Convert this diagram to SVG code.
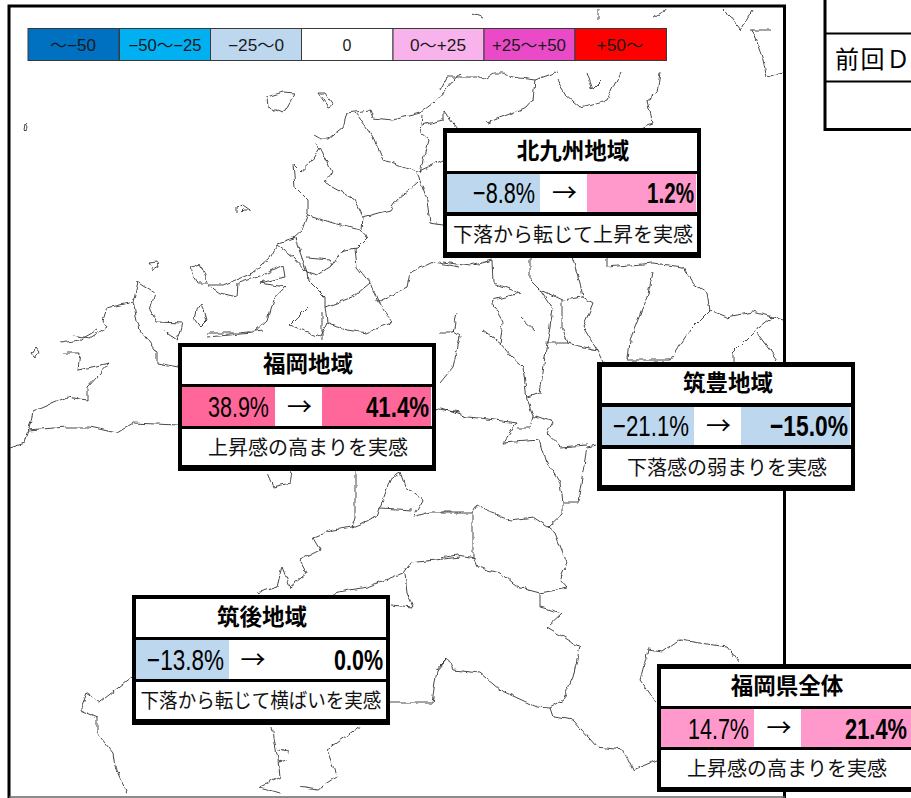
<svg xmlns="http://www.w3.org/2000/svg" width="911" height="798" viewBox="0 0 911 798">
<defs>
<filter id="rough" filterUnits="userSpaceOnUse" x="0" y="0" width="911" height="798" color-interpolation-filters="sRGB">
<feTurbulence type="fractalNoise" baseFrequency="0.13" numOctaves="2" seed="4" result="n"/>
<feDisplacementMap in="SourceGraphic" in2="n" scale="5" xChannelSelector="R" yChannelSelector="G"/>
</filter>
</defs>
<style>
text{font-family:"Noto Sans CJK JP","Liberation Sans",sans-serif;fill:#000}
.map polyline{fill:none;stroke:#333;stroke-width:.9;stroke-linejoin:round}
.lg rect{stroke:#3a3a3a;stroke-width:1}
.lg text{font-size:16px;text-anchor:middle;fill:#1a1a1a;font-family:"Liberation Sans","Noto Sans CJK JP",sans-serif}
.bx{fill:#000}
.w{fill:#fff}
.b{fill:#bdd7ee}.p{fill:#ff99cc}.d{fill:#ff6699}
.t{font-size:22.5px;font-weight:700;text-anchor:middle}
.v{font-family:"Liberation Sans",sans-serif;font-size:29px;text-anchor:end}
.vb{font-weight:700}
.a{font-size:25px;text-anchor:middle}
.f{font-size:20px;text-anchor:middle;fill:#111}
</style>
<rect width="911" height="798" fill="#fff"/>
<path id="frame" d="M9 798V6H784.500V798" fill="none" stroke="#000" stroke-width="3"/>
<line x1="9" y1="797" x2="785" y2="797" stroke="#666" stroke-width="1.500"/>
<g id="map" class="map" filter="url(#rough)">
<polyline points="267,97 283,92 295,93 287,107 283,113 268,107 267,97"/>
<polyline points="318,93 325,93 333,105 328,107 318,93"/>
<polyline points="25,124 27,128 26,132 24,130 25,124"/>
<polyline points="237,213 237,207 243,205 250,210 243,210 240,213"/>
<polyline points="148,263 157,262 158,267 153,270 148,263"/>
<polyline points="190,267 200,263 208,283 197,283 190,267"/>
<polyline points="197,310 202,303 207,320 200,327 195,320 197,310"/>
<polyline points="35,347 39,352 35,358 31,353 35,347"/>
<polyline points="315,135 322,139 328,139 343,127 347,113 370,110 373,118 393,120 420,113 433,103 447,88 460,73"/>
<polyline points="440,90 447,77 477,77 483,80 493,73 503,73 512,77 535,80 557,72"/>
<polyline points="535,80 533,100 527,107 487,123"/>
<polyline points="557,80 566,95 580,107 607,100 620,73"/>
<polyline points="587,73 593,90 603,80"/>
<polyline points="660,73 657,93 647,100 653,123 640,128"/>
<polyline points="723,8 740,30 752,10"/>
<polyline points="750,30 770,30"/>
<polyline points="752,30 757,43 763,60 767,77 783,72"/>
<polyline points="473,13 483,17"/><polyline points="598,10 598,20"/><polyline points="653,17 667,10"/>
<polyline points="315,143 320,147 310,163 300,172 293,165 295,187 308,200 308,213 302,230 293,238 278,243 270,258 253,273 223,285 208,285"/>
<polyline points="208,285 220,293 237,297 238,283 263,275 283,265 285,277 260,283 285,287 273,300 267,320 253,333 207,337"/>
<polyline points="138,282 155,293 150,310 157,322 182,323 177,340"/>
<polyline points="138,282 133,302 107,308 103,320 107,327 90,338 72,335"/>
<polyline points="133,302 137,320 140,330 157,353 157,363 178,367"/>
<polyline points="355,113 373,137 383,160 393,163 417,172 443,160"/>
<polyline points="420,172 428,140 420,133 422,115"/>
<polyline points="422,125 443,120 443,110 457,128"/>
<polyline points="417,173 427,200 430,223 443,225"/>
<polyline points="320,147 332,172 325,183 355,200 363,217 362,230"/>
<polyline points="363,217 390,210 397,200 417,183"/>
<polyline points="308,215 333,223 360,230 367,238 357,248 343,250 333,265 317,275 307,272 295,238"/>
<polyline points="307,258 330,260 333,265"/>
<polyline points="277,245 293,257 307,272 308,280 325,297 325,307"/>
<polyline points="355,248 357,267 370,283 353,297 325,307"/>
<polyline points="370,283 378,302 407,287 410,273 433,262 460,267"/>
<polyline points="378,302 392,322 367,333 347,330 327,322 325,307"/>
<polyline points="310,305 290,325 320,337 327,322"/>
<polyline points="322,313 322,340"/>
<polyline points="443,262 470,266 492,260"/>
<polyline points="492,260 493,283 520,293 493,300 492,303 503,322 500,343"/>
<polyline points="530,258 530,280 540,290 563,300 583,297"/>
<polyline points="572,257 580,283 583,297 593,303 583,327 597,350 603,362"/>
<polyline points="562,300 562,327 568,343"/>
<polyline points="540,290 553,310 547,343"/>
<polyline points="607,258 607,267 653,263 683,267 693,283 707,293 710,310 727,317 753,312 773,317 783,320"/>
<polyline points="653,273 647,297 630,340 628,360 670,360 690,330 710,310"/>
<polyline points="773,317 760,327 753,333 733,353 733,362"/>
<polyline points="757,333 777,360"/>
<polyline points="457,313 453,333 440,333"/>
<polyline points="520,317 537,333"/>
<polyline points="450,330 460,337 453,367 440,383"/>
<polyline points="60,343 80,340 97,330"/>
<polyline points="63,353 80,353 78,370 110,363 87,388 87,400 67,397 33,412 28,433 25,443 10,448"/>
<polyline points="28,430 67,427 90,427 117,433 133,423 178,425"/>
<polyline points="163,330 177,340"/>
<polyline points="207,333 240,333 263,330"/>
<polyline points="433,408 460,413"/>
<polyline points="267,473 273,487 290,483 292,472"/>
<polyline points="355,472 355,517 352,527 333,530 313,538 320,550 300,560 307,573 290,587 282,567 277,587 257,593"/>
<polyline points="352,527 377,517 390,480 400,473 405,487 423,500 413,517 430,512 460,512"/>
<polyline points="380,508 413,510"/>
<polyline points="333,593 367,587 403,573 410,563 460,557"/>
<polyline points="405,573 407,593 413,607 390,605"/>
<polyline points="447,658 437,670 432,703 390,703"/>
<polyline points="132,677 100,702 87,693 80,710 97,717 97,733 113,753 115,767 127,793"/>
<polyline points="272,727 278,760 280,777 260,787 280,793"/>
<polyline points="278,750 288,752"/><polyline points="279,762 287,760"/>
<polyline points="360,727 327,750 337,777 317,790 300,787"/>
<polyline points="440,408 467,417 480,418 517,423 503,443 540,440 547,463 560,483 563,502 578,502 587,447 597,445"/>
<polyline points="483,330 500,343 510,355 523,367 527,400 533,415 553,422 547,433 560,447 587,445"/>
<polyline points="517,428 530,428 533,415"/>
<polyline points="527,397 540,393 547,343 567,343 597,350"/>
<polyline points="563,502 563,513 548,527 555,533 567,563 560,580 567,588 540,593"/>
<polyline points="440,513 473,513 477,505 490,512 510,520 533,517 548,527"/>
<polyline points="473,513 473,557 477,567 500,573 517,587 540,593 540,607 562,613 547,627 580,647 573,677 563,700 550,708 537,707 500,690 480,673 453,670 447,658 440,665"/>
<polyline points="440,558 457,555 475,558"/>
<polyline points="550,708 553,717 573,720 597,747 623,750 633,770 657,760"/>
<polyline points="740,663 727,647 680,640 663,652 648,650 640,680 657,703"/>
</g>
<g id="legend" class="lg">
<rect x="28" y="28.500" width="91" height="32" fill="#0070c0"/><text x="73" y="50.500" textLength="46" lengthAdjust="spacingAndGlyphs">〜−50</text>
<rect x="119.500" y="28.500" width="91" height="32" fill="#00b0f0"/><text x="165" y="50.500" textLength="73" lengthAdjust="spacingAndGlyphs">−50〜−25</text>
<rect x="210.500" y="28.500" width="91" height="32" fill="#bdd7ee"/><text x="256" y="50.500" textLength="56" lengthAdjust="spacingAndGlyphs">−25〜0</text>
<rect x="301.500" y="28.500" width="91.500" height="32" fill="#fff"/><text x="347" y="50.500">0</text>
<rect x="393" y="28.500" width="91" height="32" fill="#f9b3ec"/><text x="438" y="50.500" textLength="56" lengthAdjust="spacingAndGlyphs">0〜+25</text>
<rect x="484" y="28.500" width="91" height="32" fill="#ea4ac8"/><text x="529" y="50.500" textLength="74" lengthAdjust="spacingAndGlyphs">+25〜+50</text>
<rect x="575" y="28.500" width="91.500" height="32" fill="#ff0000"/><text x="620" y="50.500" textLength="47" lengthAdjust="spacingAndGlyphs">+50〜</text>
</g>
<g id="table-fragment" fill="none" stroke="#000">
<path d="M825 0V129.500H911" stroke-width="3"/>
<path d="M825 33.500H911M825 81.500H911" stroke-width="2"/>
<text x="835" y="68" font-size="24" letter-spacing="1.500" stroke="none">前回Ｄ</text>
</g>
<g id="kitakyushu">
<rect class="bx" x="443" y="128" width="258" height="130"/>
<rect class="w" x="447" y="133" width="250" height="38"/>
<rect class="w" x="447" y="174" width="250" height="38"/>
<rect class="b" x="447" y="174" width="93" height="38"/>
<rect class="p" x="587" y="174" width="109" height="38"/>
<rect class="w" x="447" y="216" width="250" height="36"/>
<text class="t" x="573" y="159">北九州地域</text>
<text class="v" transform="translate(535,203) scale(.747,1)">−8.8%</text>
<text class="a" x="564.500" y="202">→</text>
<text class="v vb" transform="translate(694,203) scale(.711,1)">1.2%</text>
<text class="f" x="573" y="242">下落から転じて上昇を実感</text>
</g>
<g id="fukuoka">
<rect class="bx" x="178" y="343" width="258" height="128"/>
<rect class="w" x="182" y="347" width="250" height="37"/>
<rect class="w" x="182" y="387" width="250" height="39"/>
<rect class="d" x="182" y="387" width="93" height="39"/>
<rect class="d" x="322" y="387" width="109" height="39"/>
<rect class="w" x="182" y="429" width="250" height="36"/>
<text class="t" x="308" y="372">福岡地域</text>
<text class="v" transform="translate(269,417) scale(.742,1)">38.9%</text>
<text class="a" x="299.500" y="416">→</text>
<text class="v vb" transform="translate(429,417) scale(.766,1)">41.4%</text>
<text class="f" x="308" y="455">上昇感の高まりを実感</text>
</g>
<g id="chikugo">
<rect class="bx" x="132" y="595" width="258" height="130"/>
<rect class="w" x="136" y="599" width="250" height="38"/>
<rect class="w" x="136" y="640" width="250" height="39"/>
<rect class="b" x="136" y="640" width="93" height="39"/>
<rect class="w" x="136" y="682" width="250" height="37"/>
<text class="t" x="262" y="625">筑後地域</text>
<text class="v" transform="translate(224,670) scale(.776,1)">−13.8%</text>
<text class="a" x="253" y="669">→</text>
<text class="v vb" transform="translate(383,670) scale(.741,1)">0.0%</text>
<text class="f" transform="translate(261,708) scale(.927,1)">下落から転じて横ばいを実感</text>
</g>
<g id="chikuho">
<rect class="bx" x="597" y="362" width="258" height="129"/>
<rect class="w" x="602" y="367" width="249" height="36"/>
<rect class="w" x="602" y="407" width="249" height="38"/>
<rect class="b" x="602" y="407" width="92" height="38"/>
<rect class="b" x="741" y="407" width="109" height="38"/>
<rect class="w" x="602" y="449" width="249" height="36"/>
<text class="t" x="728" y="391">筑豊地域</text>
<text class="v" transform="translate(689,436) scale(.766,1)">−21.1%</text>
<text class="a" x="718.500" y="435">→</text>
<text class="v vb" transform="translate(848,436) scale(.786,1)">−15.0%</text>
<text class="f" x="727" y="475">下落感の弱まりを実感</text>
</g>
<g id="prefecture">
<rect class="bx" x="657" y="664" width="254" height="128"/>
<rect class="w" x="661" y="669" width="250" height="37"/>
<rect class="w" x="661" y="709" width="250" height="38"/>
<rect class="p" x="661" y="709" width="93" height="38"/>
<rect class="p" x="801" y="709" width="110" height="38"/>
<rect class="w" x="661" y="750" width="250" height="37"/>
<text class="t" x="787" y="694">福岡県全体</text>
<text class="v" transform="translate(749,739) scale(.742,1)">14.7%</text>
<text class="a" x="779" y="737">→</text>
<text class="v vb" transform="translate(907,739) scale(.754,1)">21.4%</text>
<text class="f" x="787" y="776">上昇感の高まりを実感</text>
</g>
</svg>
